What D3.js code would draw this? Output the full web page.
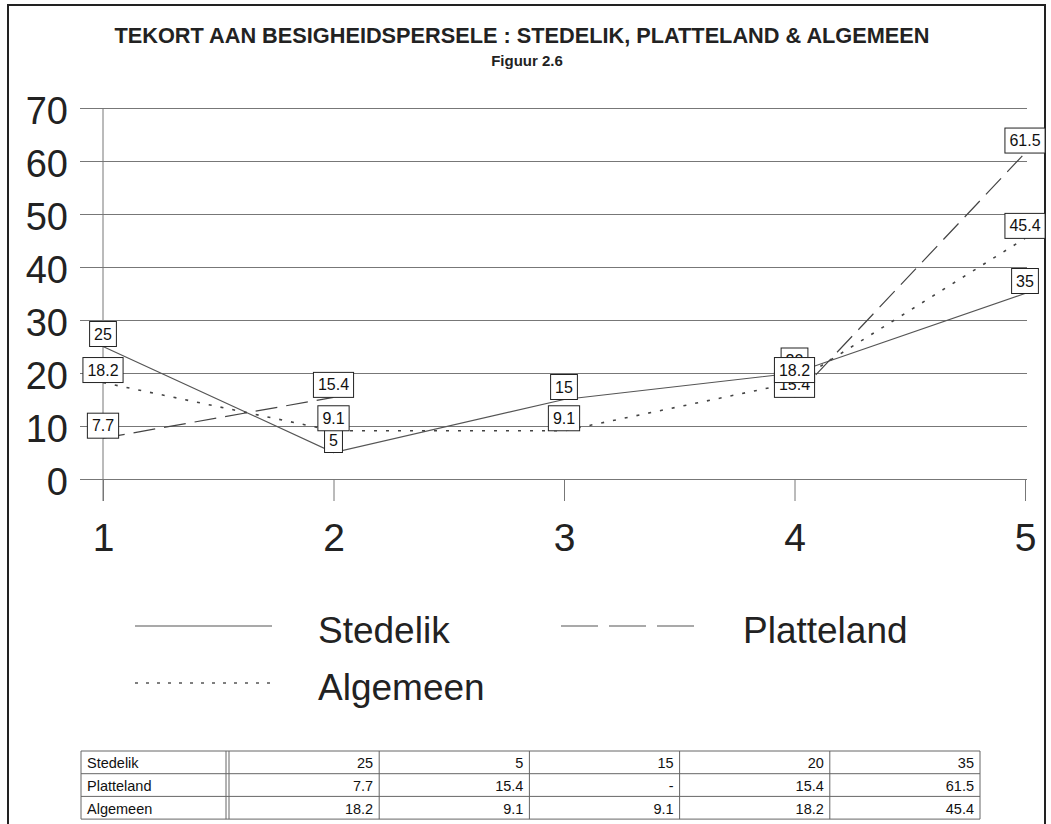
<!DOCTYPE html>
<html>
<head>
<meta charset="utf-8">
<script src="https://cdn.jsdelivr.net/npm/d3@7"></script>
<style>
  html, body { margin: 0; padding: 0; background: #fff; }
  svg { display: block; font-family: "Liberation Sans", Arial, sans-serif; }
</style>
</head>
<body>
<svg id="chart" width="1051" height="824"></svg>
<script>
// Categories and series
const categories = [1, 2, 3, 4, 5];
const stedelik   = [25, 5, 15, 20, 35];
const platteland = [7.7, 15.4, null, 15.4, 61.5];
const algemeen   = [18.2, 9.1, 9.1, 18.2, 45.4];
const yTicks     = [0, 10, 20, 30, 40, 50, 60, 70];

const seriesNames = ["Stedelik", "Platteland", "Algemeen"];
const seriesValues = [stedelik, platteland, algemeen];
const seriesDash = ["none", "22,9", "3,9"];
const legendDash = ["none", "37,11", "3,8"];

const svg = d3.select("#chart");

// Frame
svg.append("rect")
  .attr("x", 8).attr("y", 5)
  .attr("width", 1037).attr("height", 830)
  .attr("fill", "none").attr("stroke", "#222").attr("stroke-width", 2);

// Titles
svg.append("text")
  .attr("x", 522).attr("y", 43)
  .attr("text-anchor", "middle")
  .attr("font-weight", "bold").attr("font-size", 21.5)
  .attr("fill", "#222")
  .attr("textLength", 815).attr("lengthAdjust", "spacingAndGlyphs")
  .text("TEKORT AAN BESIGHEIDSPERSELE : STEDELIK, PLATTELAND & ALGEMEEN");

svg.append("text")
  .attr("x", 527).attr("y", 66)
  .attr("text-anchor", "middle")
  .attr("font-weight", "bold").attr("font-size", 15)
  .attr("fill", "#222")
  .text("Figuur 2.6");

// Scales
const x = d3.scaleLinear().domain([1, 5]).range([103, 1025]);
const y = d3.scaleLinear().domain([0, 70]).range([479, 108]);

const gridRight = 1027, gridLeft = 80;

// Y axis: gridlines running left from the right edge, labels on the left
const yAxis = svg.append("g")
  .attr("transform", `translate(${gridRight},0)`)
  .call(d3.axisLeft(y).tickValues(yTicks).tickSize(gridRight - gridLeft).tickPadding(12));
yAxis.select(".domain").remove();
yAxis.selectAll(".tick line").attr("stroke", "#777").attr("stroke-width", 1);
yAxis.selectAll(".tick text")
  .attr("font-size", 38).attr("fill", "#222")
  .attr("font-family", "\"Liberation Sans\", Arial, sans-serif")
  .attr("dy", "0.4em");

// Y axis line
svg.append("line")
  .attr("x1", x(1)).attr("x2", x(1))
  .attr("y1", y(70)).attr("y2", y(0) + 22)
  .attr("stroke", "#777");

// X axis
const xAxis = svg.append("g")
  .attr("transform", `translate(0,${y(0)})`)
  .call(d3.axisBottom(x).tickValues(categories).tickSize(22).tickPadding(22).tickFormat(d3.format("d")));
xAxis.select(".domain").remove();
xAxis.selectAll(".tick line").attr("stroke", "#777");
xAxis.selectAll(".tick text")
  .attr("font-size", 39).attr("fill", "#222")
  .attr("font-family", "\"Liberation Sans\", Arial, sans-serif");

// Series lines
const line = d3.line()
  .defined(d => d.v !== null)
  .x(d => x(d.c))
  .y(d => y(d.v));

seriesValues.forEach((vals, i) => {
  const pts = categories.map((c, j) => ({ c, v: vals[j] }));
  svg.append("path")
    .datum(pts)
    .attr("d", line)
    .attr("fill", "none")
    .attr("stroke", i === 0 ? "#555" : "#444")
    .attr("stroke-width", i === 2 ? 1.6 : 1.2)
    .attr("stroke-dasharray", seriesDash[i]);
});

// Value labels in boxes, sitting on top of each point
seriesValues.forEach((vals) => {
  categories.forEach((c, j) => {
    const v = vals[j];
    if (v === null) return;
    const g = svg.append("g");
    const t = g.append("text")
      .attr("x", x(c)).attr("y", y(v) - 7)
      .attr("text-anchor", "middle")
      .attr("font-size", 16).attr("fill", "#111")
      .text(v);
    const w = t.node().getComputedTextLength() + 9;
    g.insert("rect", "text")
      .attr("x", x(c) - w / 2).attr("y", y(v) - 25)
      .attr("width", w).attr("height", 25)
      .attr("fill", "#fff").attr("stroke", "#222").attr("stroke-width", 1);
  });
});

// Legend
const legendItems = [
  { i: 0, lx: 135, ly: 626, tx: 318 },
  { i: 1, lx: 561, ly: 626, tx: 743 },
  { i: 2, lx: 135, ly: 683, tx: 318 }
];
legendItems.forEach(d => {
  svg.append("line")
    .attr("x1", d.lx).attr("x2", d.lx + 137)
    .attr("y1", d.ly).attr("y2", d.ly)
    .attr("stroke", "#555").attr("stroke-width", d.i === 2 ? 1.6 : 1.2)
    .attr("stroke-dasharray", legendDash[d.i]);
  svg.append("text")
    .attr("x", d.tx).attr("y", d.ly + 17)
    .attr("font-size", 37).attr("fill", "#222")
    .text(seriesNames[d.i]);
});

// Data table
const tableTop = 751, rowH = 22.7;
const labelLeft = 81, labelRight = 226, valueLeft = 229, colW = 150.2;
const tableRight = valueLeft + colW * categories.length;
const tbl = svg.append("g").attr("font-size", 14.5).attr("fill", "#111");

seriesNames.forEach((name, r) => {
  const rowY = tableTop + r * rowH;
  tbl.append("text")
    .attr("x", labelLeft + 6).attr("y", rowY + rowH - 5.5)
    .text(name);
  categories.forEach((c, j) => {
    const v = seriesValues[r][j];
    tbl.append("text")
      .attr("x", valueLeft + colW * (j + 1) - 6).attr("y", rowY + rowH - 5.5)
      .attr("text-anchor", "end")
      .text(v === null ? "-" : v);
  });
});

const gridStroke = "#666";
// Horizontal rules
d3.range(seriesNames.length + 1).forEach(r => {
  tbl.append("line")
    .attr("x1", labelLeft).attr("x2", tableRight)
    .attr("y1", tableTop + r * rowH).attr("y2", tableTop + r * rowH)
    .attr("stroke", gridStroke);
});
// Vertical rules
const vx = [labelLeft, labelRight, valueLeft].concat(categories.map((c, j) => valueLeft + colW * (j + 1)));
vx.forEach(xx => {
  tbl.append("line")
    .attr("x1", xx).attr("x2", xx)
    .attr("y1", tableTop).attr("y2", tableTop + rowH * seriesNames.length)
    .attr("stroke", gridStroke);
});
</script>
</body>
</html>
